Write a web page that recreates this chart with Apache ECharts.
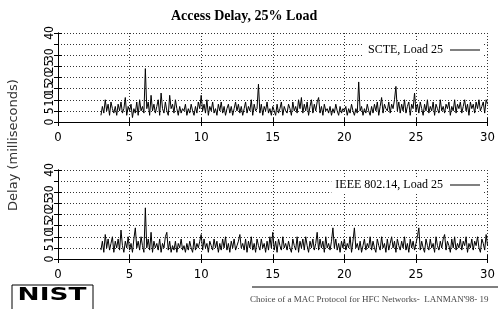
<!DOCTYPE html>
<html>
<head>
<meta charset="utf-8">
<script src="https://cdn.jsdelivr.net/npm/echarts@6/dist/echarts.min.js"></script>
<style>html,body{margin:0;padding:0;background:#fff;}</style>
</head>
<body>
<div id="chart" style="width:498px;height:309px;"></div>
<script>
// delay samples every 0.1 s, from t = 3.0 to t = 30.0
const tStart = 3.0
const tStep = 0.1
const scteDelay = [
  3, 7, 4, 10, 5, 8, 3, 9, 6, 4,
  7, 3, 8, 5, 9, 4, 6, 11, 3, 7,
  5, 8, 2, 6, 4, 9, 3, 10, 5, 7,
  4, 24, 6, 9, 3, 12, 5, 8, 4, 7,
  10, 3, 13, 6, 4, 9, 5, 3, 12, 6,
  8, 4, 10, 6, 3, 7, 4, 6, 5, 8,
  3, 6, 4, 8, 5, 3, 7, 4, 9, 6,
  12, 5, 8, 4, 10, 3, 7, 5, 9, 4,
  6, 3, 8, 5, 9, 4, 7, 3, 6, 8,
  4, 7, 3, 6, 9, 5, 8, 4, 7, 3,
  6, 9, 4, 7, 5, 10, 3, 8, 5, 6,
  17, 4, 8, 3, 7, 5, 9, 4, 6, 3,
  7, 5, 3, 8, 4, 6, 9, 3, 7, 5,
  4, 8, 6, 3, 9, 5, 7, 4, 10, 6,
  11, 4, 8, 5, 9, 3, 7, 10, 4, 8,
  5, 9, 11, 4, 7, 3, 8, 5, 6, 4,
  7, 3, 6, 4, 8, 5, 3, 7, 4, 6,
  5, 7, 3, 6, 4, 8, 5, 3, 6, 4,
  18, 5, 7, 3, 6, 4, 8, 5, 3, 7,
  4, 8, 5, 9, 3, 7, 11, 4, 8, 6,
  5, 9, 4, 8, 6, 10, 16, 5, 9, 4,
  8, 5, 10, 4, 7, 9, 3, 8, 6, 13,
  5, 8, 4, 9, 6, 3, 8, 5, 10, 4,
  7, 5, 9, 3, 8, 6, 4, 10, 5, 7,
  4, 8, 6, 9, 3, 7, 5, 10, 4, 8,
  6, 9, 4, 7, 10, 5, 8, 3, 9, 6,
  8, 4, 9, 6, 10, 5, 7, 9, 4, 10,
  8
]
const ieeeDelay = [
  4, 8, 3, 11, 5, 9, 4, 7, 10, 3,
  8, 5, 9, 4, 13, 6, 3, 8, 5, 10,
  4, 7, 3, 9, 14, 5, 8, 4, 10, 6,
  3, 23, 5, 9, 4, 12, 3, 8, 5, 7,
  4, 9, 3, 7, 5, 10, 12, 4, 8, 3,
  6, 4, 8, 3, 7, 5, 9, 4, 6, 3,
  7, 4, 8, 5, 3, 9, 4, 7, 5, 8,
  11, 4, 9, 5, 7, 3, 8, 6, 4, 9,
  5, 8, 3, 7, 4, 9, 5, 10, 4, 7,
  3, 8, 5, 9, 4, 6, 8, 11, 5, 7,
  4, 9, 3, 8, 5, 10, 4, 7, 3, 9,
  6, 4, 9, 5, 7, 3, 8, 4, 10, 5,
  12, 4, 8, 3, 9, 6, 4, 10, 5, 7,
  4, 8, 5, 3, 9, 6, 4, 10, 3, 8,
  5, 9, 4, 10, 6, 3, 8, 5, 9, 4,
  7, 12, 4, 9, 5, 8, 3, 10, 5, 7,
  4, 8, 14, 5, 9, 4, 7, 3, 8, 5,
  9, 4, 7, 5, 10, 3, 8, 14, 5, 7,
  4, 8, 3, 6, 9, 4, 7, 5, 10, 4,
  8, 5, 3, 9, 6, 4, 10, 5, 7, 3,
  9, 4, 7, 10, 5, 8, 3, 9, 6, 4,
  8, 5, 10, 4, 7, 3, 9, 5, 8, 4,
  7, 10, 14, 4, 8, 5, 3, 9, 6, 4,
  9, 5, 7, 3, 10, 6, 4, 8, 5, 9,
  11, 4, 8, 6, 3, 9, 5, 10, 4, 7,
  5, 9, 4, 8, 6, 10, 3, 7, 5, 9,
  4, 8, 6, 10, 5, 3, 9, 7, 4, 11,
  6
]
const seriesNames = ['SCTE, Load 25', 'IEEE 802.14, Load 25']

const toPairs = arr => arr.map((v, i) => [+(tStart + i * tStep).toFixed(1), v])

const chart = echarts.init(document.getElementById('chart'), null, { renderer: 'canvas' })

const tickFont = "'Liberation Sans Narrow', 'DejaVu Sans Condensed', sans-serif"
const dotted = { color: '#333', width: 1, type: [1, 2] }

function xAxes(gridIndex) {
  return [
    {
      gridIndex, type: 'value', min: 0, max: 30, interval: 5,
      axisLine: { lineStyle: { color: '#000', width: 1 } },
      axisTick: { inside: true, length: 4, lineStyle: { color: '#000' } },
      axisLabel: { color: '#000', fontSize: 13, fontFamily: tickFont, margin: 9 },
      splitLine: { show: true, lineStyle: dotted }
    },
    {
      gridIndex, type: 'value', min: 0, max: 30, interval: 5, position: 'top',
      axisLine: { lineStyle: { color: '#000', width: 1 } },
      axisTick: { inside: true, length: 4, lineStyle: { color: '#000' } },
      axisLabel: { show: false }, splitLine: { show: false }
    }
  ]
}
function yAxes(gridIndex) {
  return [
    {
      gridIndex, type: 'value', min: 0, max: 40, interval: 5,
      axisLine: { show: true, lineStyle: { color: '#000', width: 1 } },
      axisTick: { show: true, inside: true, length: 4, lineStyle: { color: '#000' } },
      axisLabel: {
        color: '#000', fontSize: 12, fontFamily: tickFont, rotate: 90, margin: 2,
        showMaxLabel: true, showMinLabel: true
      },
      splitLine: { show: true, lineStyle: dotted }
    },
    {
      gridIndex, type: 'value', min: 0, max: 40, interval: 5, position: 'right',
      axisLine: { show: true, lineStyle: { color: '#000', width: 1 } },
      axisTick: { show: true, inside: true, length: 4, lineStyle: { color: '#000' } },
      axisLabel: { show: false }, splitLine: { show: false }
    }
  ]
}

const legendBase = {
  orient: 'horizontal', align: 'right', right: 14, itemWidth: 30, itemHeight: 1,
  icon: 'rect', padding: [2, 4], backgroundColor: '#fff', itemGap: 0,
  textStyle: { color: '#000', fontSize: 12, fontFamily: "'Liberation Serif', serif", padding: [0, 2, 0, 0] }
}

const lineSeries = (name, arr, axisIdx) => ({
  name, type: 'line', data: toPairs(arr),
  xAxisIndex: axisIdx, yAxisIndex: axisIdx,
  symbol: 'none', animation: false,
  lineStyle: { color: '#000', width: 1 },
  itemStyle: { color: '#000' }
})

const option = {
  animation: false,
  title: {
    text: 'Access Delay, 25% Load', left: 166, top: 4,
    textStyle: { fontFamily: "'Liberation Serif', serif", fontWeight: 'bold', fontSize: 14, color: '#000' }
  },
  legend: [
    Object.assign({}, legendBase, { data: [seriesNames[0]], top: 42 }),
    Object.assign({}, legendBase, { data: [seriesNames[1]], top: 177 })
  ],
  grid: [
    { left: 58, right: 8, top: 33, height: 89 },
    { left: 58, right: 8, top: 170, height: 89 }
  ],
  xAxis: [...xAxes(0), ...xAxes(1)],
  yAxis: [...yAxes(0), ...yAxes(1)],
  series: [
    lineSeries(seriesNames[0], scteDelay, 0),
    lineSeries(seriesNames[1], ieeeDelay, 2)
  ],
  graphic: [
    {
      type: 'text', x: 14, y: 145, rotation: Math.PI / 2,
      style: {
        text: 'Delay (milliseconds)', fill: '#333', fontSize: 13,
        fontFamily: "'DejaVu Sans', sans-serif", align: 'center', verticalAlign: 'middle'
      }
    },
    {
      type: 'rect', shape: { x: 12, y: 285, width: 81, height: 30 },
      style: { fill: '#fff', stroke: '#000', lineWidth: 1 }
    },
    {
      type: 'text', x: 52, y: 296, scaleX: 1.55,
      style: {
        text: 'NIST', fill: '#000', fontSize: 17, fontWeight: 900,
        fontFamily: "'DejaVu Sans', sans-serif", align: 'center', verticalAlign: 'middle'
      }
    },
    {
      type: 'line', shape: { x1: 252, y1: 287, x2: 498, y2: 287 },
      style: { stroke: '#000', lineWidth: 1 }
    },
    {
      type: 'text', x: 250, y: 300,
      style: {
        text: "Choice of a MAC Protocol for HFC Networks-  LANMAN'98- 19", fill: '#444',
        fontSize: 9, fontFamily: "'Liberation Serif', serif", verticalAlign: 'middle'
      }
    }
  ]
}

chart.setOption(option)
</script>
</body>
</html>
